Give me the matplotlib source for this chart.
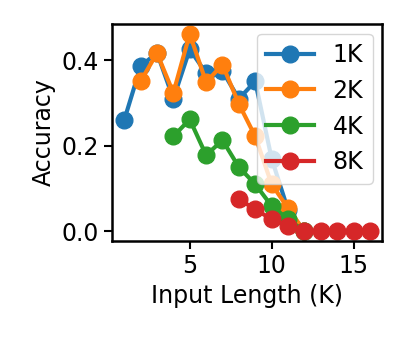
import numpy as np
import matplotlib
matplotlib.use("Agg")
import matplotlib.pyplot as plt

# Accuracy vs input length per training context
x_1k = [1, 2, 3, 4, 5, 6, 7, 8, 9, 10, 11, 12]
acc_1k = [0.26, 0.386, 0.418, 0.31, 0.426, 0.37, 0.375, 0.31, 0.351, 0.17, 0.05, 0.0]

x_2k = [2, 3, 4, 5, 6, 7, 8, 9, 10, 11, 12]
acc_2k = [0.351, 0.417, 0.324, 0.462, 0.349, 0.39, 0.298, 0.222, 0.11, 0.054, 0.0]

x_4k = [4, 5, 6, 7, 8, 9, 10, 11, 12]
acc_4k = [0.222, 0.262, 0.178, 0.213, 0.15, 0.11, 0.059, 0.028, 0.0]

x_8k = [8, 9, 10, 11, 12, 13, 14, 15, 16]
acc_8k = [0.075, 0.051, 0.028, 0.012, 0.0, 0.0, 0.0, 0.0, 0.0]

plt.rcParams['font.size'] = 17

fig = plt.figure(figsize=(4.07, 3.39), dpi=100)
ax = fig.add_axes([0.275, 0.289, 0.664, 0.64])

for xs, ys, lab in [(x_1k, acc_1k, '1K'), (x_2k, acc_2k, '2K'),
                    (x_4k, acc_4k, '4K'), (x_8k, acc_8k, '8K')]:
    ax.plot(xs, ys, marker='o', markersize=12, linewidth=3, label=lab)

ax.set_xlabel('Input Length (K)')
ax.set_ylabel('Accuracy')
ax.set_xticks([5, 10, 15])
ax.set_yticks([0.0, 0.2, 0.4])
for s in ax.spines.values():
    s.set_linewidth(1.8)
ax.tick_params(width=1.5, length=6)
ax.legend(loc='upper right', fontsize=17, borderaxespad=0.4)

fig.savefig('out.png', dpi=100)
